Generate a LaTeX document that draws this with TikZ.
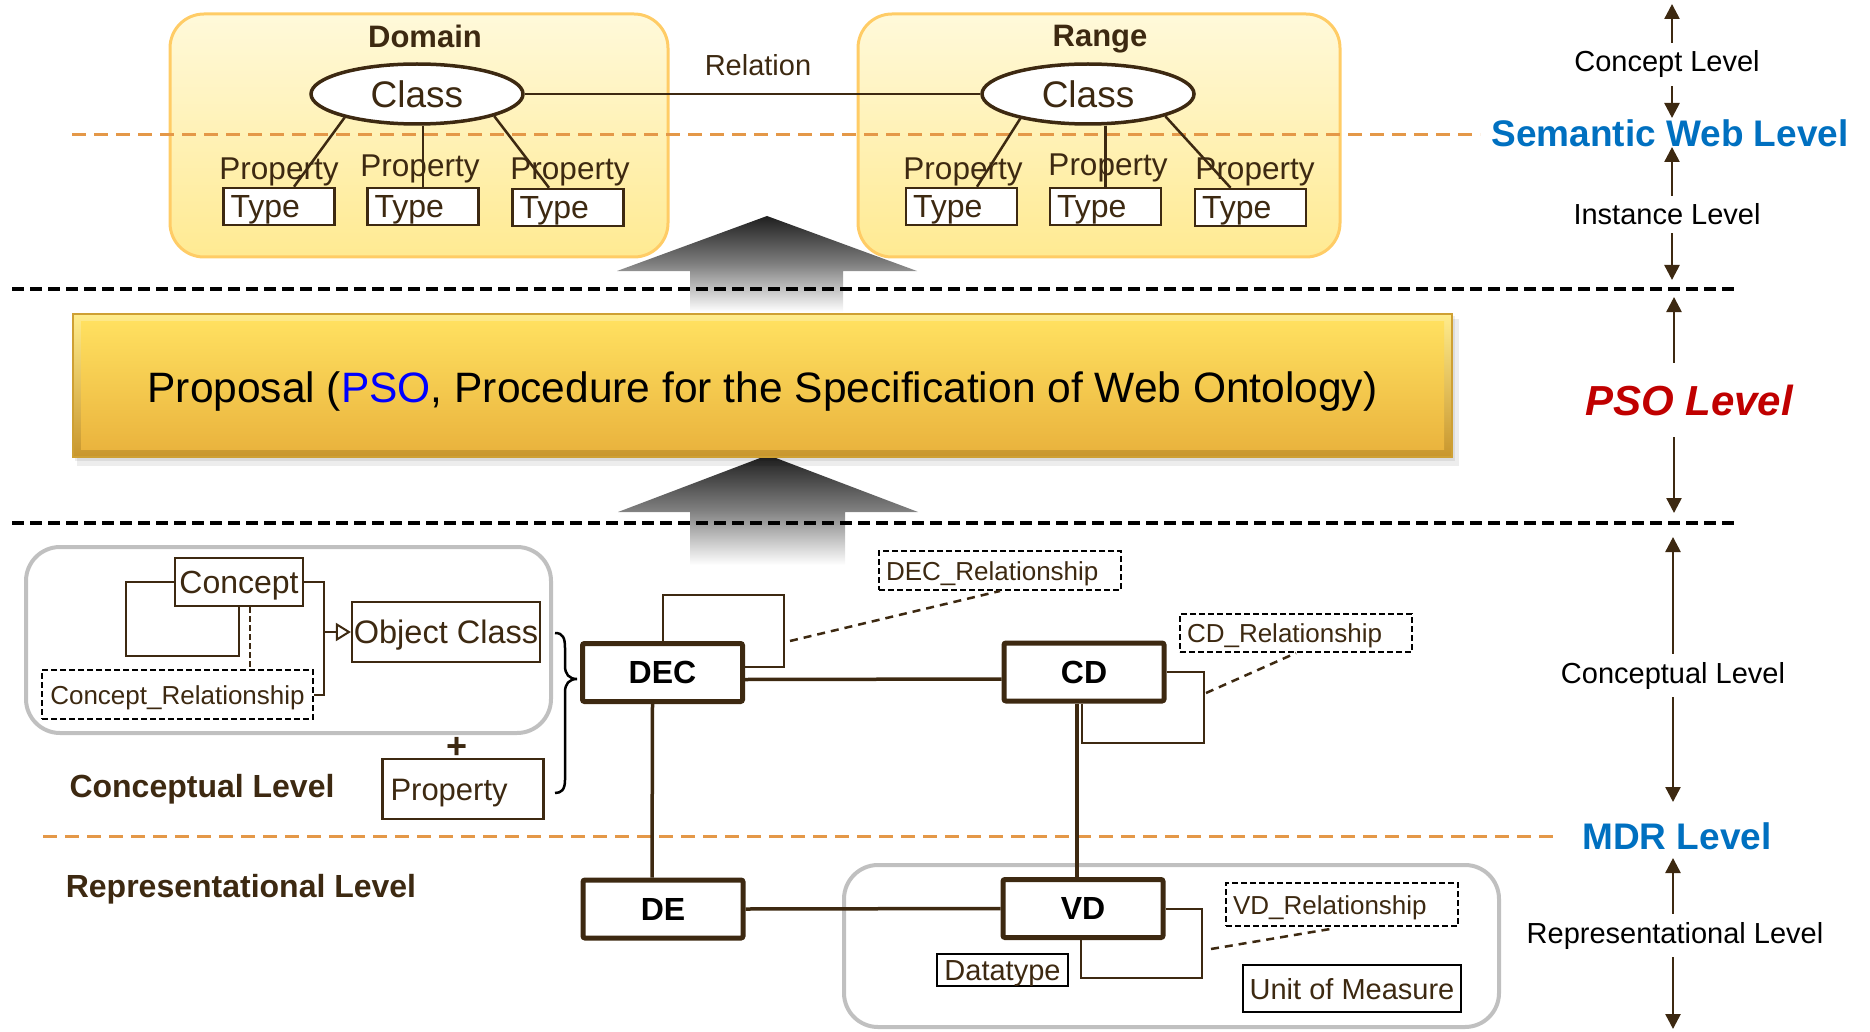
\documentclass[tikz,border=0pt]{standalone}
\usepackage{fontspec}
\setmainfont{Liberation Sans}
\usetikzlibrary{arrows.meta,calc,shapes.geometric}

\definecolor{lnbrown}{RGB}{61,41,17}
\definecolor{webblue}{RGB}{0,112,192}
\definecolor{psored}{RGB}{192,0,0}
\definecolor{lvorange}{RGB}{228,152,72}
\definecolor{boxedge}{RGB}{255,204,102}
\definecolor{boxtop}{RGB}{255,249,218}
\definecolor{boxbot}{RGB}{255,234,146}
\definecolor{barhi}{RGB}{255,236,140}
\definecolor{bardark}{RGB}{200,150,45}
\definecolor{bartop}{RGB}{255,224,96}
\definecolor{barbot}{RGB}{234,180,62}
\definecolor{baredge}{RGB}{206,160,52}
\definecolor{grpgray}{RGB}{192,192,192}

\tikzset{every picture/.style={line width=2pt}}
\tikzset{
	fsz/.style={font=\fontsize{#1}{#1}\selectfont},
	fszb/.style={font=\fontsize{#1}{#1}\selectfont\bfseries},
	capbox/.style={text height=#1, text depth=0pt},
	areabox/.style={draw=boxedge, line width=3pt, rounded corners=34pt, top color=boxtop, bottom color=boxbot},
	areatitle/.style={fszb=31, text=lnbrown, anchor=base, inner sep=0pt},
	classnode/.style={ellipse, draw=lnbrown, line width=3.5pt, fill=white, minimum width=212pt, minimum height=60pt, inner sep=0pt, fsz=37, text=lnbrown},
	typebox/.style={draw=lnbrown, fill=white, line width=2.5pt, inner xsep=7pt, inner ysep=0pt, text width=97pt, align=left, minimum height=37pt, text=lnbrown, fsz=32, capbox=23pt},
	propname/.style={fsz=31.5, text=lnbrown, anchor=base, inner sep=0pt},
	relline/.style={draw=lnbrown, line width=2.5pt},
	grpbox/.style={draw=grpgray, line width=4pt, rounded corners=34pt},
	plainbox/.style={draw=lnbrown, line width=2.2pt, fill=white, text=lnbrown, inner sep=0pt},
	relbox/.style={draw=black, line width=2pt, dash pattern=on 6pt off 3pt, fill=white, text=lnbrown, inner xsep=7pt, inner ysep=0pt, align=left, fsz=26, capbox=19pt},
	entity/.style={draw=lnbrown, line width=5pt, rounded corners=2pt, fill=white, minimum width=160pt, minimum height=58pt, fszb=32, inner sep=0pt},
	tieline/.style={draw=lnbrown, line width=3.5pt},
	loopline/.style={draw=lnbrown, line width=2pt},
	reldash/.style={draw=lnbrown, line width=2.5pt, dash pattern=on 8pt off 6pt},
	genarrow/.style={draw=lnbrown, line width=2pt, -{Triangle[open, length=15pt, width=18pt]}},
	bracept/.style={draw=black, line width=2.5pt},
	lvlabel/.style={fsz=29, anchor=base, inner xsep=0pt, inner ysep=7pt},
	lvweb/.style={fszb=37, text=webblue, anchor=base, inner sep=0pt},
	lvarrow/.style={draw=lnbrown, line width=2.5pt, -{Triangle[length=15pt,width=15pt]}},
	blackdash/.style={draw=black, line width=3.5pt, dash pattern=on 12pt off 6pt},
	orangedash/.style={draw=lvorange, line width=3pt, dash pattern=on 14pt off 8pt},
	bigarrow/.style={top color=black!88, bottom color=white, middle color=black!50},
}

\begin{document}
\begin{tikzpicture}[x=1pt,y=1pt,yscale=-1,xscale=1]
	\useasboundingbox (0,0) rectangle (1870,1032);
	
	%Shape: Rounded Rect [domain]
	\path[areabox] (170,14) rectangle (668,257);
	%Shape: Rounded Rect [range]
	\path[areabox] (858,14) rectangle (1340,257);
	
	%Shape: Up Arrow [upper]
	\shade[bigarrow] (617,271) -- (767,216) -- (917,271) -- (843,271) -- (843,312) -- (690,312) -- (690,271) -- cycle;
	%Shape: Up Arrow [lower]
	\shade[bigarrow] (618,512) -- (768,455) -- (918,512) -- (845,512) -- (845,565) -- (690,565) -- (690,512) -- cycle;
	
	%Straight Lines [semantic web level]
	\draw[orangedash] (72,135) -- (1480,135);
	
	% Text Node
	\node[areatitle] (domlbl) at (425,48) {Domain};
	% Text Node
	\node[areatitle] (rnglbl) at (1100,47) {Range};
	% Text Node
	\node[fsz=29, text=lnbrown, anchor=base, inner sep=0pt] (rellbl) at (758,76) {Relation};
	
	%Shape: Ellipse
	\node[classnode] (dcls) at (417,94) {Class};
	%Shape: Ellipse
	\node[classnode] (rcls) at (1088,94) {Class};
	%Straight Lines
	\draw[relline] (dcls) -- (rcls);
	
	%Shape: Rectangle
	\node[typebox] (dt1) at (279,206.5) {Type};
	\node[typebox] (dt2) at (423,206.5) {Type};
	\node[typebox] (dt3) at (568,207.5) {Type};
	\node[typebox] (rt1) at (961.5,206.5) {Type};
	\node[typebox] (rt2) at (1105.5,206.5) {Type};
	\node[typebox] (rt3) at (1250.5,207.5) {Type};
	
	% Text Node
	\node[propname] (dp1) at (279,180) {Property};
	\node[propname] (dp2) at (420,177) {Property};
	\node[propname] (dp3) at (570,180) {Property};
	\node[propname] (rp1) at (963,180) {Property};
	\node[propname] (rp2) at (1108,176) {Property};
	\node[propname] (rp3) at (1255,180) {Property};
	
	%Straight Lines
	\draw[relline] (dcls.198) -- ($(dt1.north)+(15,0)$);
	\draw[relline] (dt2.north |- dcls.south) -- (dt2.north);
	\draw[relline] (dcls.344) -- ($(dt3.north)+(-19,0)$);
	\draw[relline] (rcls.200) -- ($(rt1.north)+(15.5,0)$);
	\draw[relline] (rt2.north |- rcls.south) -- (rt2.north);
	\draw[relline] (rcls.344) -- ($(rt3.north)+(-20,0)$);
	
	%Shape: Bar [PSO]
	\fill[black, opacity=0.07] (77,319) rectangle (1459,466);
	\fill[black, opacity=0.07] (75,316) rectangle (1455,461);
	\path[draw=baredge, line width=1.5pt, top color=barhi, bottom color=bardark] (73,314) rectangle (1452,457);
	\shade[top color=bartop, bottom color=barbot] (81,321) rectangle (1444,449);
	% Text Node
	\node[fsz=42.5] (psotext) at (762.5,392) {Proposal ({\color{blue}PSO}, Procedure for the Specification of Web Ontology)};
	
	%Straight Lines [level borders]
	\draw[blackdash] (12,289) -- (1736,289);
	\draw[blackdash] (12,523) -- (1736,523);
	
	%Shape: Rounded Rect [conceptual group]
	\draw[grpbox] (26,547) rectangle (551,733);
	%Shape: Rounded Rect [value domain group]
	\draw[grpbox] (844,865) rectangle (1499,1027);
	
	%Straight Lines [MDR level]
	\draw[orangedash] (43,836) -- (1558,836);
	
	%Shape: Rectangle
	\node[plainbox, fsz=32, capbox=23pt, minimum width=128pt, minimum height=48pt] (concept) at (239,582) {Concept};
	\node[plainbox, fsz=32.5, capbox=23.5pt, minimum width=188pt, minimum height=60pt] (objcls) at (446,632) {Object Class};
	\node[relbox, fsz=26, capbox=19pt, inner xsep=0pt, align=center, text width=271pt, minimum height=49pt] (crel) at (177.5,694.5) {Concept\_Relationship};
	\node[plainbox, fsz=31, capbox=22.5pt, text width=145pt, inner xsep=8pt, align=left, minimum height=60pt] (mprop) at (463,789) {Property};
	
	%Straight Lines
	\draw[loopline] (concept.west) -| (126,656) -| (concept.south);
	\draw[loopline] (concept.east) -| ($(crel.east)+(10,0)$) -- (crel.east);
	\draw[loopline, dash pattern=on 6pt off 3pt] ($(concept.south)+(11,0)$) -- ($(crel.north)+(72.5,0)$);
	\coordinate (genfoot) at (324,632);
	\draw[genarrow] (genfoot) -- (objcls.west);
	
	% Text Node
	\node[fszb=36, text=lnbrown, inner sep=0pt] (plus) at (457,748) {+};
	
	%Curve Lines [brace]
	\draw[bracept] (555,633) .. controls (563,633) and (565,638) .. (565,648) -- (565,666) .. controls (565,674) and (569,679) .. (577,679) .. controls (569,679) and (565,684) .. (565,692) -- (565,780) .. controls (565,790) and (561,793) .. (555,793);
	
	% Text Node
	\node[fszb=32, text=lnbrown, anchor=base, inner sep=0pt] (cptleft) at (202,797) {Conceptual Level};
	% Text Node
	\node[fszb=32, text=lnbrown, anchor=base, inner sep=0pt] (repleft) at (241,897) {Representational Level};
	
	%Shape: Rectangle [entities]
	\node[entity] (dec) at (662.5,672.5) {DEC};
	\node[entity] (cd) at (1084,672) {CD};
	\node[entity] (de) at (663,909) {DE};
	\node[entity] (vd) at (1083,908.5) {VD};
	
	%Straight Lines
	\draw[tieline] ($(dec.east)+(0,7)$) -- ($(cd.west)+(0,7)$);
	\draw[tieline] ($(dec.south)+(-10,0)$) -- ($(de.north)+(-11,0)$);
	\draw[tieline] ($(cd.south)+(-7,0)$) -- ($(vd.north)+(-6,0)$);
	\draw[tieline] (de.east) -- (vd.west);
	
	%Straight Lines [self relations]
	\draw[loopline] ($(dec.north)+(0.5,0)$) |- (784,595) |- ($(dec.east)+(0,-5.5)$);
	\draw[loopline] (cd.east) -| (1204,743) -| ($(cd.south)+(-2,0)$);
	\draw[loopline] (vd.east) -| (1202,978) -| ($(vd.south)+(-2,0)$);
	
	%Shape: Rectangle [relationships]
	\node[relbox, text width=228pt, minimum height=39pt] (decrel) at (1000,570.5) {DEC\_Relationship};
	\node[relbox, text width=218pt, minimum height=38pt] (cdrel) at (1296,633) {CD\_Relationship};
	\node[relbox, text width=218pt, minimum height=43pt] (vdrel) at (1342,904.5) {VD\_Relationship};
	\node[plainbox, draw=black, fsz=29, capbox=21pt, minimum width=131pt, minimum height=32pt] (dtype) at (1002.5,970) {Datatype};
	\node[plainbox, draw=black, line width=2.5pt, fsz=29, capbox=21pt, minimum width=218pt, minimum height=47pt] (uom) at (1352,988.5) {Unit of Measure};
	
	%Straight Lines [dashed]
	\coordinate (decloop) at (790,641);
	\coordinate (cdloop) at (1206,693);
	\coordinate (vdloop) at (1211,949);
	\draw[reldash] (decloop) -- (decrel.south);
	\draw[reldash] (cdloop) -- (cdrel.south);
	\draw[reldash, shorten >=8pt] (vdloop) -- (vdrel.south);
	
	% Text Node [levels]
	\node[lvlabel] (conlvl) at (1667,72) {Concept Level};
	\node[lvweb] (swlvl) at (1670,147) {Semantic Web Level};
	\node[lvlabel] (inslvl) at (1667,225) {Instance Level};
	\node[font=\fontsize{42}{42}\selectfont\bfseries\itshape, text=psored, anchor=base, inner xsep=0pt, inner ysep=21pt] (psolvl) at (1689,415) {PSO Level};
	\node[lvlabel] (cptlvl) at (1673,683) {Conceptual Level};
	\node[lvweb] (mdrlvl) at (1677,849) {MDR Level};
	\node[lvlabel] (replvl) at (1675,943) {Representational Level};
	
	%Straight Lines [level arrows]
	\coordinate (ta) at (1672,4);
	\coordinate (tb) at (1672,118);
	\coordinate (tc) at (1672,147);
	\coordinate (td) at (1672,280);
	\coordinate (te) at (1674,297);
	\coordinate (tf) at (1674,513);
	\coordinate (tg) at (1673,537);
	\coordinate (th) at (1673,802);
	\coordinate (ti) at (1673,858);
	\coordinate (tj) at (1673,1029);
	\draw[lvarrow] (conlvl.north -| ta) -- (ta);
	\draw[lvarrow] (conlvl.south -| tb) -- (tb);
	\draw[lvarrow] (inslvl.north -| tc) -- (tc);
	\draw[lvarrow] (inslvl.south -| td) -- (td);
	\draw[lvarrow] (psolvl.north -| te) -- (te);
	\draw[lvarrow] (psolvl.south -| tf) -- (tf);
	\draw[lvarrow] (cptlvl.north -| tg) -- (tg);
	\draw[lvarrow] (cptlvl.south -| th) -- (th);
	\draw[lvarrow] (replvl.north -| ti) -- (ti);
	\draw[lvarrow] (replvl.south -| tj) -- (tj);
	
\end{tikzpicture}
\end{document}
